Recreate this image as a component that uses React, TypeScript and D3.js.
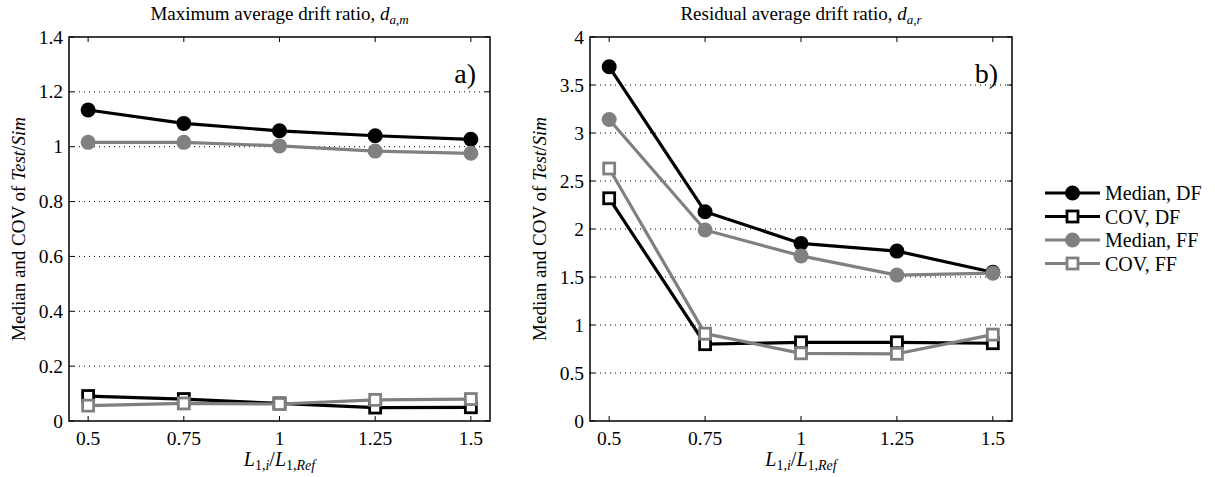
import { useRef, useEffect } from 'react';
import * as d3 from 'd3';

// x positions shared by both panels
const ratios = [0.5, 0.75, 1, 1.25, 1.5];
const xTickLabels = ['0.5', '0.75', '1', '1.25', '1.5'];

// panel a) maximum average drift ratio
const aTicks = [0, 0.2, 0.4, 0.6, 0.8, 1, 1.2, 1.4];
const aTickLabels = ['0', '0.2', '0.4', '0.6', '0.8', '1', '1.2', '1.4'];
const aMedianDF = [1.134, 1.085, 1.058, 1.04, 1.027];
const aCovDF = [0.091, 0.08, 0.064, 0.049, 0.05];
const aMedianFF = [1.016, 1.016, 1.003, 0.984, 0.976];
const aCovFF = [0.056, 0.064, 0.062, 0.077, 0.08];

// panel b) residual average drift ratio
const bTicks = [0, 0.5, 1, 1.5, 2, 2.5, 3, 3.5, 4];
const bTickLabels = ['0', '0.5', '1', '1.5', '2', '2.5', '3', '3.5', '4'];
const bMedianDF = [3.69, 2.18, 1.85, 1.77, 1.55];
const bCovDF = [2.32, 0.8, 0.82, 0.82, 0.81];
const bMedianFF = [3.14, 1.99, 1.72, 1.52, 1.54];
const bCovFF = [2.63, 0.91, 0.705, 0.7, 0.9];

const seriesNames = ['Median, DF', 'COV, DF', 'Median, FF', 'COV, FF'];
const seriesColors = ['#000000', '#000000', '#808080', '#808080'];
const seriesMarkers = ['circle', 'square', 'circle', 'square'];

const FONT = '"Liberation Serif", "Times New Roman", serif';

export default function App() {
  const svgRef = useRef(null);

  useEffect(() => {
    const svg = d3.select(svgRef.current);
    svg.selectAll('*').remove();

    const top = 37, bottom = 421;

    function drawMarker(g, kind, x, y, color) {
      if (kind === 'circle') {
        g.append('circle').attr('cx', x).attr('cy', y).attr('r', 7.5).attr('fill', color);
      } else {
        g.append('rect')
          .attr('x', x - 5.5).attr('y', y - 5.5)
          .attr('width', 11).attr('height', 11)
          .attr('fill', '#fff').attr('stroke', color).attr('stroke-width', 2.8);
      }
    }

    function panel(left, right, yMax, ticks, tickLabels, series, title, tag, letter) {
      const x = d3.scaleLinear().domain([0.45, 1.55]).range([left, right]);
      const y = d3.scaleLinear().domain([0, yMax]).range([bottom, top]);
      const g = svg.append('g').style('font-family', FONT);

      // dotted grid
      ticks.slice(1, -1).forEach(t => {
        g.append('line')
          .attr('x1', left).attr('x2', right)
          .attr('y1', y(t)).attr('y2', y(t))
          .attr('stroke', '#000').attr('stroke-width', 1)
          .attr('stroke-dasharray', '1,4');
      });

      // inward ticks on all sides
      ratios.forEach(v => {
        g.append('line').attr('x1', x(v)).attr('x2', x(v)).attr('y1', bottom).attr('y2', bottom - 5).attr('stroke', '#000');
        g.append('line').attr('x1', x(v)).attr('x2', x(v)).attr('y1', top).attr('y2', top + 5).attr('stroke', '#000');
      });
      ticks.forEach(t => {
        g.append('line').attr('x1', left).attr('x2', left + 5).attr('y1', y(t)).attr('y2', y(t)).attr('stroke', '#000');
        g.append('line').attr('x1', right).attr('x2', right - 5).attr('y1', y(t)).attr('y2', y(t)).attr('stroke', '#000');
      });

      g.append('rect')
        .attr('x', left).attr('y', top)
        .attr('width', right - left).attr('height', bottom - top)
        .attr('fill', 'none').attr('stroke', '#000').attr('stroke-width', 1.5);

      // tick labels
      ratios.forEach((v, i) => {
        g.append('text').attr('x', x(v)).attr('y', bottom + 24)
          .attr('text-anchor', 'middle').attr('font-size', 19.5)
          .text(xTickLabels[i]);
      });
      ticks.forEach((t, i) => {
        g.append('text').attr('x', left - 6).attr('y', y(t) + 6.5)
          .attr('text-anchor', 'end').attr('font-size', 19.5)
          .text(tickLabels[i]);
      });

      // series
      const line = d3.line().x((d, i) => x(ratios[i])).y(d => y(d));
      series.forEach((vals, s) => {
        g.append('path').attr('d', line(vals))
          .attr('fill', 'none').attr('stroke', seriesColors[s]).attr('stroke-width', 3.2)
          .attr('stroke-linejoin', 'round');
        vals.forEach((v, i) => drawMarker(g, seriesMarkers[s], x(ratios[i]), y(v), seriesColors[s]));
      });

      // title
      const tt = g.append('text').attr('x', (left + right) / 2).attr('y', 20)
        .attr('text-anchor', 'middle').attr('font-size', 19);
      tt.append('tspan').text(title + ', ');
      tt.append('tspan').attr('font-style', 'italic').text('d');
      tt.append('tspan').attr('font-style', 'italic').attr('font-size', 13).attr('dy', 4).text(tag);

      // panel letter
      g.append('text').attr('x', right - 14).attr('y', 83)
        .attr('text-anchor', 'end').attr('font-size', 28)
        .text(letter);

      // y label
      const yl = g.append('text')
        .attr('transform', `translate(${left - 44},${(top + bottom) / 2}) rotate(-90)`)
        .attr('text-anchor', 'middle').attr('font-size', 19);
      yl.append('tspan').text('Median and COV of ');
      yl.append('tspan').attr('font-style', 'italic').text('Test');
      yl.append('tspan').text('/');
      yl.append('tspan').attr('font-style', 'italic').text('Sim');

      // x label
      const xl = g.append('text').attr('x', (left + right) / 2).attr('y', 466)
        .attr('text-anchor', 'middle').attr('font-size', 20);
      xl.append('tspan').attr('font-style', 'italic').text('L');
      xl.append('tspan').attr('font-size', 14).attr('dy', 4).text('1,');
      xl.append('tspan').attr('font-size', 14).attr('font-style', 'italic').text('i');
      xl.append('tspan').attr('dy', -4).text('/');
      xl.append('tspan').attr('font-style', 'italic').text('L');
      xl.append('tspan').attr('font-size', 14).attr('dy', 4).text('1,');
      xl.append('tspan').attr('font-size', 14).attr('font-style', 'italic').text('Ref');
    }

    panel(69, 490, 1.4, aTicks, aTickLabels, [aMedianDF, aCovDF, aMedianFF, aCovFF],
      'Maximum average drift ratio', 'a,m', 'a)');
    panel(590, 1012, 4, bTicks, bTickLabels, [bMedianDF, bCovDF, bMedianFF, bCovFF],
      'Residual average drift ratio', 'a,r', 'b)');

    // legend
    const lg = svg.append('g').style('font-family', FONT);
    seriesNames.forEach((name, i) => {
      const yy = 193 + i * 23.5;
      lg.append('line').attr('x1', 1045).attr('x2', 1100).attr('y1', yy).attr('y2', yy)
        .attr('stroke', seriesColors[i]).attr('stroke-width', 3.2);
      drawMarker(lg, seriesMarkers[i], 1072.5, yy, seriesColors[i]);
      lg.append('text').attr('x', 1105).attr('y', yy + 7)
        .attr('font-size', 20).text(name);
    });
  }, []);

  return (
    <svg ref={svgRef} width={1215} height={477}
      style={{ position: 'absolute', left: 0, top: 0, background: '#fff' }} />
  );
}
